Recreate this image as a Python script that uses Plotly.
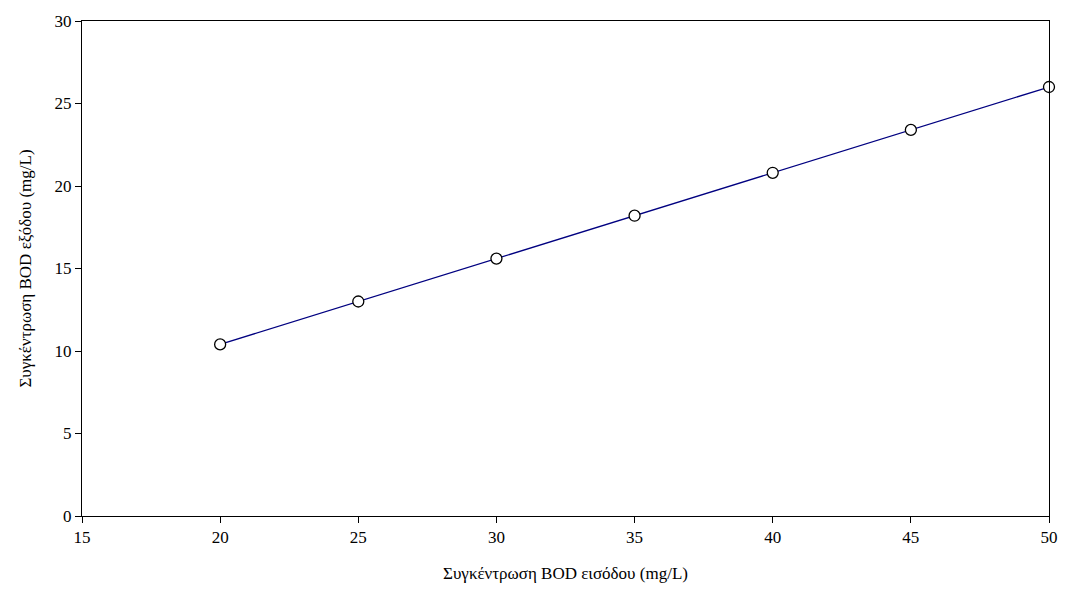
import plotly.graph_objects as go

bod_in = [20, 25, 30, 35, 40, 45, 50]
bod_out = [10.4, 13.0, 15.6, 18.2, 20.8, 23.4, 26.0]
x_ticks = [15, 20, 25, 30, 35, 40, 45, 50]
y_ticks = [0, 5, 10, 15, 20, 25, 30]

font = dict(family="Liberation Serif", size=17, color="black")

fig = go.Figure()
fig.add_trace(go.Scatter(
    x=bod_in, y=bod_out, mode="lines+markers",
    line=dict(color="#000080", width=1.3),
    marker=dict(symbol="circle", size=11, color="white", line=dict(color="black", width=1.3)),
    cliponaxis=False, showlegend=False,
))
fig.update_layout(
    width=1070, height=594,
    margin=dict(l=82, r=12, t=16, b=78),
    paper_bgcolor="white", plot_bgcolor="white",
    font=font,
)
fig.update_xaxes(
    range=[15, 50], tickvals=x_ticks, ticks="outside", ticklen=6, tickwidth=1, tickcolor="black",
    showline=True, linecolor="black", linewidth=1, mirror=True, showgrid=False, zeroline=False,
    title=dict(text="Συγκέντρωση BOD εισόδου (mg/L)", font=font, standoff=20),
    tickfont=font,
)
fig.update_yaxes(
    range=[0, 30], tickvals=y_ticks, ticks="outside", ticklen=6, tickwidth=1, tickcolor="black",
    showline=True, linecolor="black", linewidth=1, mirror=True, showgrid=False, zeroline=False,
    title=dict(text="Συγκέντρωση BOD εξόδου (mg/L)", font=font, standoff=18),
    tickfont=font,
)
fig.write_html("out.html")
